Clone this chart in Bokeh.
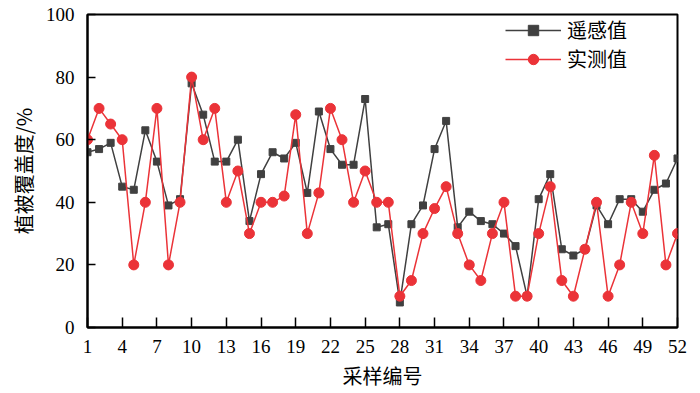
from bokeh.plotting import figure
from bokeh.models import Range1d, FixedTicker, Legend, LegendItem
from bokeh.embed import file_html
from bokeh.resources import INLINE

sample_ids = list(range(1, 53))
remote_values = [56, 57, 59, 45, 44, 63, 53, 39, 41, 78, 68, 53, 53, 60, 34, 49, 56, 54,
                 59, 43, 69, 57, 52, 52, 73, 32, 33, 8, 33, 39, 57, 66, 32, 37, 34, 33,
                 30, 26, 10, 41, 49, 25, 23, 25, 39, 33, 41, 41, 37, 44, 46, 54]
measured_values = [60, 70, 65, 60, 20, 40, 70, 20, 40, 80, 60, 70, 40, 50, 30, 40, 40, 42,
                   68, 30, 43, 70, 60, 40, 50, 40, 40, 10, 15, 30, 38, 45, 30, 20, 15, 30,
                   40, 10, 10, 30, 45, 15, 10, 25, 40, 10, 20, 40, 30, 55, 20, 30]
x_ticks = list(range(1, 53, 3))
y_ticks = [0, 20, 40, 60, 80, 100]
series_names = ["遥感值", "实测值"]
x_title = "采样编号"
y_title = "植被覆盖度/%"

GRAY = "#404040"
RED = "#eb3338"
SERIF = "Liberation Serif"
CJK = "Noto Sans CJK SC"

p = figure(frame_width=590, frame_height=313, output_backend="svg", toolbar_location=None,
           x_range=Range1d(1, 52), y_range=Range1d(0, 100),
           min_border_left=87, min_border_top=14, min_border_right=15, min_border_bottom=62)

p.xgrid.visible = False
p.ygrid.visible = False
p.outline_line_color = "black"
p.outline_line_width = 2
p.outline_line_alpha = 1

r1l = p.line(sample_ids, remote_values, line_color=GRAY, line_width=1.5)
r1s = p.scatter(sample_ids, remote_values, marker="square", size=7,
                fill_color=GRAY, line_color=GRAY)
r2l = p.line(sample_ids, measured_values, line_color=RED, line_width=1.5)
r2s = p.scatter(sample_ids, measured_values, marker="circle", size=10,
                fill_color=RED, line_color=RED)

for ax in (p.xaxis[0], p.yaxis[0]):
    ax.axis_line_color = "black"
    ax.axis_line_width = 2
    ax.major_tick_line_color = "black"
    ax.major_tick_line_width = 1.5
    ax.major_tick_out = 0
    ax.minor_tick_line_color = None
    ax.major_label_text_font = SERIF
    ax.major_label_text_font_size = "19px"
    ax.major_label_text_color = "black"
    ax.axis_label_text_font = CJK
    ax.axis_label_text_font_size = "20px"
    ax.axis_label_text_font_style = "normal"
    ax.axis_label_text_color = "black"

p.xaxis[0].ticker = FixedTicker(ticks=x_ticks)
p.yaxis[0].ticker = FixedTicker(ticks=y_ticks)
p.xaxis[0].major_tick_in = 10
p.yaxis[0].major_tick_in = 8
p.xaxis[0].major_label_standoff = 12
p.yaxis[0].major_label_standoff = 13
p.xaxis[0].axis_label = x_title
p.yaxis[0].axis_label = y_title
p.xaxis[0].axis_label_standoff = 5
p.yaxis[0].axis_label_standoff = 5

legend = Legend(items=[LegendItem(label=series_names[0], renderers=[r1l, r1s]),
                       LegendItem(label=series_names[1], renderers=[r2l, r2s])],
                location=(418, 254))
legend.border_line_color = None
legend.background_fill_alpha = 0
legend.label_text_font = CJK
legend.label_text_font_size = "20px"
legend.label_text_line_height = 0.9
legend.label_text_color = "black"
legend.glyph_width = 56
legend.glyph_height = 26
legend.label_height = 26
legend.label_standoff = 6
legend.spacing = 0
legend.padding = 2
legend.margin = 0
p.add_layout(legend)

open("out.html", "w").write(file_html(p, INLINE))
